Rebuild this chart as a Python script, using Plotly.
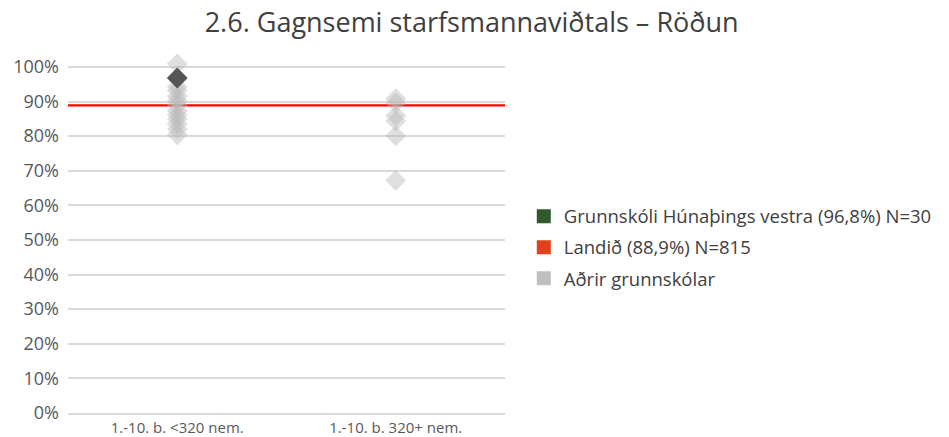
import plotly.graph_objects as go

# Category labels on the x axis
categories = ["1.-10. b. <320 nem.", "1.-10. b. 320+ nem."]

# Other schools (fractions), per category
others_small = [1.009, 0.943, 0.932, 0.915, 0.903, 0.890, 0.873, 0.860, 0.849, 0.835, 0.820, 0.804]
others_large = [0.908, 0.896, 0.859, 0.844, 0.801, 0.672]

# Highlighted school and national value
school_value = 0.968
school_category = 0
national_value = 0.889

legend_names = [
    "Grunnskóli Húnaþings vestra (96,8%) N=30",
    "Landið (88,9%) N=815",
    "Aðrir grunnskólar",
]

y_ticks = [i / 10 for i in range(11)]

FONT = "Open Sans"
fig = go.Figure()

# National line across the whole plot
fig.add_trace(go.Scatter(
    x=[-0.5, 1.5], y=[national_value, national_value],
    mode="lines", line=dict(color="#ff0000", width=2.2),
    showlegend=False, hoverinfo="skip",
))

# Other schools
fig.add_trace(go.Scatter(
    x=[0] * len(others_small) + [1] * len(others_large),
    y=others_small + others_large,
    mode="markers",
    marker=dict(symbol="diamond", size=16, color="rgba(185,185,185,0.45)", line=dict(width=0)),
    showlegend=False, cliponaxis=False,
))

# Highlighted school
fig.add_trace(go.Scatter(
    x=[school_category], y=[school_value],
    mode="markers",
    marker=dict(symbol="diamond", size=16, color="#555555", line=dict(width=0)),
    showlegend=False, cliponaxis=False,
))

# Legend entries
legend_colors = ["#2e5a2e", "#e0401a", "#bfbfbf"]
for i, (name, col) in enumerate(zip(legend_names, legend_colors)):
    fig.add_trace(go.Scatter(
        x=[None], y=[None], mode="markers", name=name,
        marker=dict(symbol="square", size=14, color=col),
        legendgroup=f"g{i}",
    ))

fig.update_layout(
    width=949, height=437,
    margin=dict(l=68, r=442, t=60, b=24),
    paper_bgcolor="white", plot_bgcolor="white",
    font=dict(family=FONT, color="#595959"),
    title=dict(
        text="2.6. Gagnsemi starfsmannaviðtals – Röðun",
        x=0.497, xanchor="center", y=0.948, yanchor="middle",
        font=dict(size=27, color="#404040", family=FONT),
    ),
    showlegend=True,
    legend=dict(
        x=1.043, xanchor="left", y=0.61, yanchor="top",
        font=dict(size=18.5, color="#404040", family=FONT),
        tracegroupgap=4, itemwidth=30,
        bgcolor="rgba(0,0,0,0)",
    ),
    xaxis=dict(
        range=[-0.5, 1.5], tickvals=[0, 1], ticktext=categories,
        showgrid=False, zeroline=False,
        showline=True, linecolor="#d9d9d9", linewidth=1.5,
        tickfont=dict(size=15, color="#595959"), ticks="",
        automargin=False, fixedrange=True,
    ),
    yaxis=dict(
        range=[0, 1.02], tickvals=y_ticks, tickformat=".0%",
        showgrid=True, gridcolor="#d9d9d9", gridwidth=1.5,
        zeroline=False, showline=False,
        tickfont=dict(size=18, color="#595959"), ticks="",
        ticklabelstandoff=8, automargin=False,
    ),
)

fig.write_html("out.html")
